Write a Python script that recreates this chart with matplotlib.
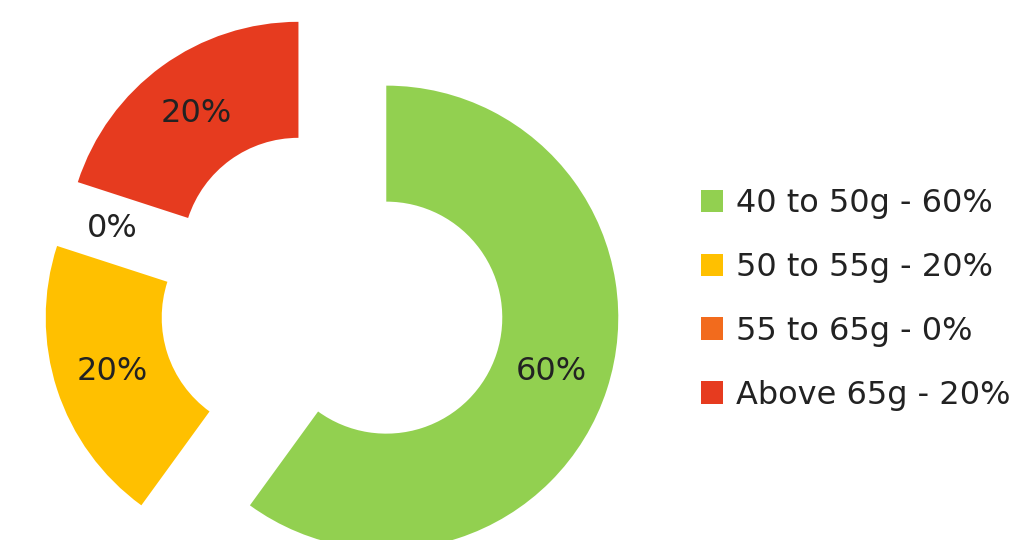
import matplotlib
matplotlib.use("Agg")
import matplotlib.pyplot as plt

# Egg weight distribution
categories = ["40 to 50g", "50 to 55g", "55 to 65g", "Above 65g"]
shares = [60, 20, 0, 20]
colors = ["#92D050", "#FFC000", "#F26B1D", "#E63B1F"]

plt.rcParams["font.family"] = ["DejaVu Sans"]
text_color = "#222222"
fs = 23

W, H, dpi = 1031, 540, 100
fig = plt.figure(figsize=(W / dpi, H / dpi), dpi=dpi)
ax = fig.add_axes([0, 0, 1, 1])

wedges, texts, autotexts = ax.pie(
    shares,
    colors=colors,
    startangle=90,
    counterclock=False,
    explode=[0.246] * len(shares),
    radius=1.0,
    wedgeprops=dict(width=0.5, linewidth=0),
    autopct="%.0f%%",
    pctdistance=0.75,
    textprops=dict(fontsize=fs, color=text_color),
)

# donut centre at (332, 300) px from top-left, outer radius 232 px
cx, cy, R = 332, 300, 232
ax.set_xlim(-cx / R, (W - cx) / R)
ax.set_ylim(-(H - cy) / R, cy / R)
ax.set_axis_off()

legend_labels = [f"{c} - {v}%" for c, v in zip(categories, shares)]
ax.legend(
    wedges,
    legend_labels,
    loc="upper left",
    bbox_to_anchor=(701 / W, 1 - 188 / H),
    bbox_transform=fig.transFigure,
    frameon=False,
    fontsize=fs,
    labelcolor=text_color,
    handlelength=0.7,
    handleheight=0.7,
    handletextpad=0.38,
    labelspacing=1.03,
    borderpad=0,
    borderaxespad=0,
)

fig.savefig("out.png", dpi=dpi, facecolor="white")
